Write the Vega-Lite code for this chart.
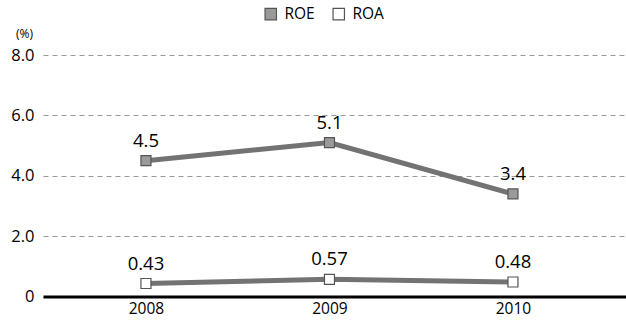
{
  "$schema": "https://vega.github.io/schema/vega-lite/v6.json",
  "width": 583,
  "height": 241.5,
  "autosize": {"type": "none"},
  "padding": {"left": 43, "top": 55, "right": 0, "bottom": 25.5},
  "background": "#ffffff",
  "config": {
    "font": "Open Sans",
    "view": {"stroke": null},
    "axis": {"labelColor": "#000000", "titleColor": "#000000"}
  },
  "data": {
    "values": [
      {"year": 2008, "series": "ROE", "value": 4.5, "label": "4.5"},
      {"year": 2009, "series": "ROE", "value": 5.1, "label": "5.1"},
      {"year": 2010, "series": "ROE", "value": 3.4, "label": "3.4"},
      {"year": 2008, "series": "ROA", "value": 0.43, "label": "0.43"},
      {"year": 2009, "series": "ROA", "value": 0.57, "label": "0.57"},
      {"year": 2010, "series": "ROA", "value": 0.48, "label": "0.48"}
    ]
  },
  "encoding": {
    "x": {
      "field": "year",
      "type": "quantitative",
      "scale": {"domain": [2007.439, 2010.616], "nice": false, "zero": false},
      "axis": {
        "values": [2008, 2009, 2010],
        "format": "d",
        "title": null,
        "grid": false,
        "ticks": false,
        "domain": true,
        "domainColor": "#000000",
        "domainWidth": 3,
        "labelFontSize": 15.5,
        "labelPadding": 5
      }
    },
    "y": {
      "field": "value",
      "type": "quantitative",
      "scale": {"domain": [0, 8], "nice": false},
      "axis": {
        "values": [0, 2, 4, 6, 8],
        "labelExpr": "datum.value == 0 ? '0' : format(datum.value, '.1f')",
        "title": "(%)",
        "titleAngle": 0,
        "titleX": -19,
        "titleY": -22,
        "titleAlign": "center",
        "titleBaseline": "middle",
        "titleFontSize": 12,
        "titleFontWeight": "normal",
        "grid": true,
        "gridDash": [5, 4],
        "gridColor": "#9a9a9a",
        "gridWidth": 1,
        "ticks": false,
        "domain": false,
        "labelFontSize": 16.5,
        "labelPadding": 9
      }
    }
  },
  "layer": [
    {
      "mark": {"type": "line", "color": "#737373", "strokeWidth": 5},
      "encoding": {"detail": {"field": "series"}}
    },
    {
      "mark": {"type": "point", "shape": "square", "size": 100, "filled": true, "stroke": "#555555", "strokeWidth": 1.2, "opacity": 1},
      "encoding": {
        "fill": {
          "field": "series",
          "type": "nominal",
          "scale": {"domain": ["ROE", "ROA"], "range": ["#9a9a9a", "#ffffff"]},
          "legend": {
            "title": null,
            "orient": "none",
            "legendX": 220,
            "legendY": -49,
            "direction": "horizontal",
            "symbolType": "square",
            "symbolSize": 130,
            "symbolStrokeColor": "#555555",
            "symbolStrokeWidth": 1.2,
            "labelFontSize": 15.5,
            "labelColor": "#000000",
            "columnPadding": 15,
            "labelOffset": 6
          }
        }
      }
    },
    {
      "mark": {"type": "text", "dy": -20, "fontSize": 18.5, "color": "#000000"},
      "encoding": {"text": {"field": "label"}}
    }
  ]
}
